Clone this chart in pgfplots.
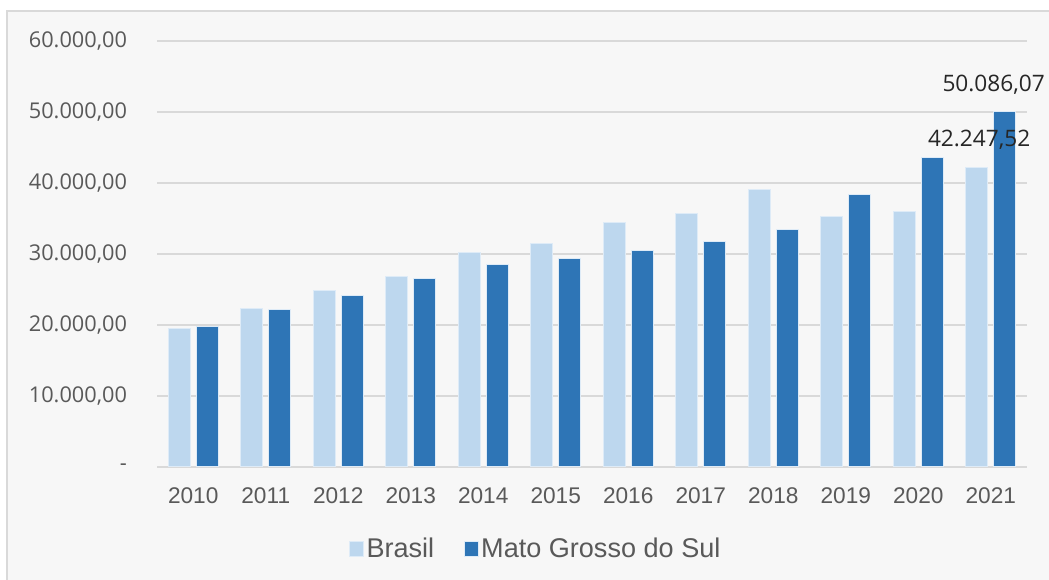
\documentclass[border=0pt]{standalone}
\usepackage{pgfplots}
\pgfplotsset{compat=1.18}
\usepackage{fontspec}
\setmainfont{Liberation Sans}
\newfontfamily\osans{Open Sans}
\definecolor{cBr}{HTML}{BDD7EE}
\definecolor{cMS}{HTML}{2E75B6}
\definecolor{cEdge}{HTML}{DEEBF7}
\definecolor{cGrid}{HTML}{D9D9D9}
\definecolor{cTxt}{HTML}{595959}
\definecolor{cBg}{HTML}{F7F7F7}
\begin{document}
\begin{tikzpicture}[x=0.75pt,y=0.75pt]
\path[use as bounding box] (0,0) rectangle (1049,580);
\begin{scope}
\clip (0,0) rectangle (1049,580);
\fill[white] (0,0) rectangle (1049,580);
\draw[cGrid,fill=cBg,line width=1.5pt] (7,-10) rectangle (1070,569);
\end{scope}
\begin{axis}[
  at={(117.75pt,84.75pt)}, anchor=south west,
  width=652.5pt, height=319.5pt, scale only axis,
  xmin=-0.5, xmax=11.5, ymin=0, ymax=60000,
  scaled y ticks=false,
  clip=false,
  axis line style={draw=none},
  major tick length=0pt,
  ymajorgrids, grid style={cGrid,line width=1.1pt},
  ytick={0,10000,20000,30000,40000,50000,60000},
  yticklabels={{-\hspace{7.5pt}},{10.000,00},{20.000,00},{30.000,00},{40.000,00},{50.000,00},{60.000,00}},
  yticklabel style={font=\osans\fontsize{16.3}{16.3}\selectfont, text=cTxt, anchor=east, xshift=-19pt},
  xtick={0,...,11},
  xticklabels={2010,2011,2012,2013,2014,2015,2016,2017,2018,2019,2020,2021},
  xticklabel style={font=\fontsize{17}{17}\selectfont, text=cTxt, anchor=north, yshift=-12pt},
  ybar, bar width=16.5pt,
  legend style={at={(0.4356,-0.1925)}, anchor=center, draw=none, fill=none,
    legend columns=2, font=\fontsize{20.3}{20.3}\selectfont, text=cTxt,
    /tikz/every even column/.append style={column sep=20pt}},
  legend cell align=left,
  legend image code/.code={\draw[#1,line width=0.75pt] (0pt,-5.3pt) rectangle (10.5pt,5.3pt);},
]
\addplot[fill=cBr, draw=cEdge, line width=0.75pt, bar shift=-10.5pt] coordinates {
(0,19437) (1,22337) (2,24872) (3,26843) (4,30278) (5,31447) (6,34366) (7,35634) (8,39014) (9,35211) (10,36009) (11,42247.52)};
\addlegendentry{Brasil}
\addplot[fill=cMS, draw=cEdge, line width=0.75pt, bar shift=10.5pt] coordinates {
(0,19800) (1,22112) (2,24168) (3,26561) (4,28490) (5,29335) (6,30422) (7,31732) (8,33474) (9,38406) (10,43605) (11,50086.07)};
\addlegendentry{Mato Grosso do Sul}
\node[font=\osans\fontsize{17}{17}\selectfont, text=black!85] at (axis cs:11.04,53803) {50.086,07};
\node[font=\osans\fontsize{17}{17}\selectfont, text=black!85] at (axis cs:10.84,46056) {42.247,52};
\end{axis}
\end{tikzpicture}
\end{document}
